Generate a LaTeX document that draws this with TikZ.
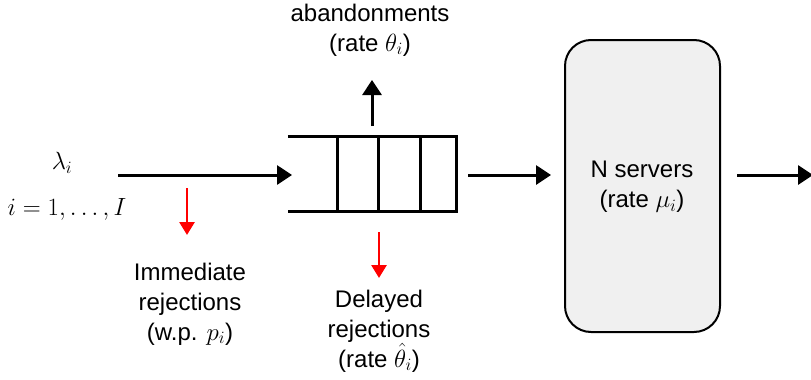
\documentclass[tikz,border=0pt]{standalone}
\usepackage{fontspec}
\setmainfont{Liberation Sans}
\usetikzlibrary{arrows.meta}
\begin{document}
\begin{tikzpicture}[x=1pt,y=-1pt,
  lbl/.style={align=center,inner sep=0pt,font=\fontsize{24}{30}\selectfont},
  flow/.style={line width=3pt,-{Triangle[length=15pt,width=19pt]}},
  rej/.style={red,line width=2.8pt,-{Triangle[length=13pt,width=15pt]}},
  qline/.style={line width=3pt},
  srvbox/.style={draw,line width=2pt,fill=black!6,rounded corners=26pt,
    minimum width=155pt,minimum height=292pt,inner sep=0pt}]
\useasboundingbox (0,0) rectangle (811,380);

% queue buffer
\node[minimum width=168pt,minimum height=74pt,inner sep=0pt] (q) at (372,174) {};
\draw[qline] (q.north west) -- (q.north east) -- (q.south east) -- (q.south west);
\foreach \x in {337,378,420} \draw[qline] (\x,137) -- (\x,211);

% server pool
\node[srvbox] (srv) at (642.5,186) {};
\node[lbl] (srvtxt) at (642,187) {N servers\\(rate $\mu_i$)};

% arrival labels
\node[lbl] (lam) at (62,163) {$\lambda_i$};
\node[lbl] (cls) at (67,209) {$i=1,\ldots,I$};

% side-flow labels
\node[lbl] (abtxt) at (370,30) {abandonments\\(rate $\theta_i$)};
\node[lbl] (imtxt) at (190,304) {Immediate\\rejections\\(w.p. $p_i$)};
\node[lbl] (dltxt) at (379,331) {Delayed\\rejections\\(rate $\hat{\theta}_i$)};

% free ends of the connectors
\coordinate (arr) at (118,175);
\coordinate (qin) at (292,175);
\coordinate (qout) at (468,175);
\coordinate (sin) at (551,175);
\coordinate (sout) at (737,175);
\coordinate (dep) at (813,175);
\coordinate (abs) at (372,126);
\coordinate (abe) at (372,80);
\coordinate (ims) at (187,188);
\coordinate (ime) at (187,235);
\coordinate (dls) at (379,232);
\coordinate (dle) at (379,278);

% connectors
\draw[flow] (arr) -- (qin);
\draw[flow] (qout) -- (sin);
\draw[flow] (sout) -- (dep);
\draw[flow] (abs) -- (abe);
\draw[rej] (ims) -- (ime);
\draw[rej] (dls) -- (dle);
\end{tikzpicture}
\end{document}
